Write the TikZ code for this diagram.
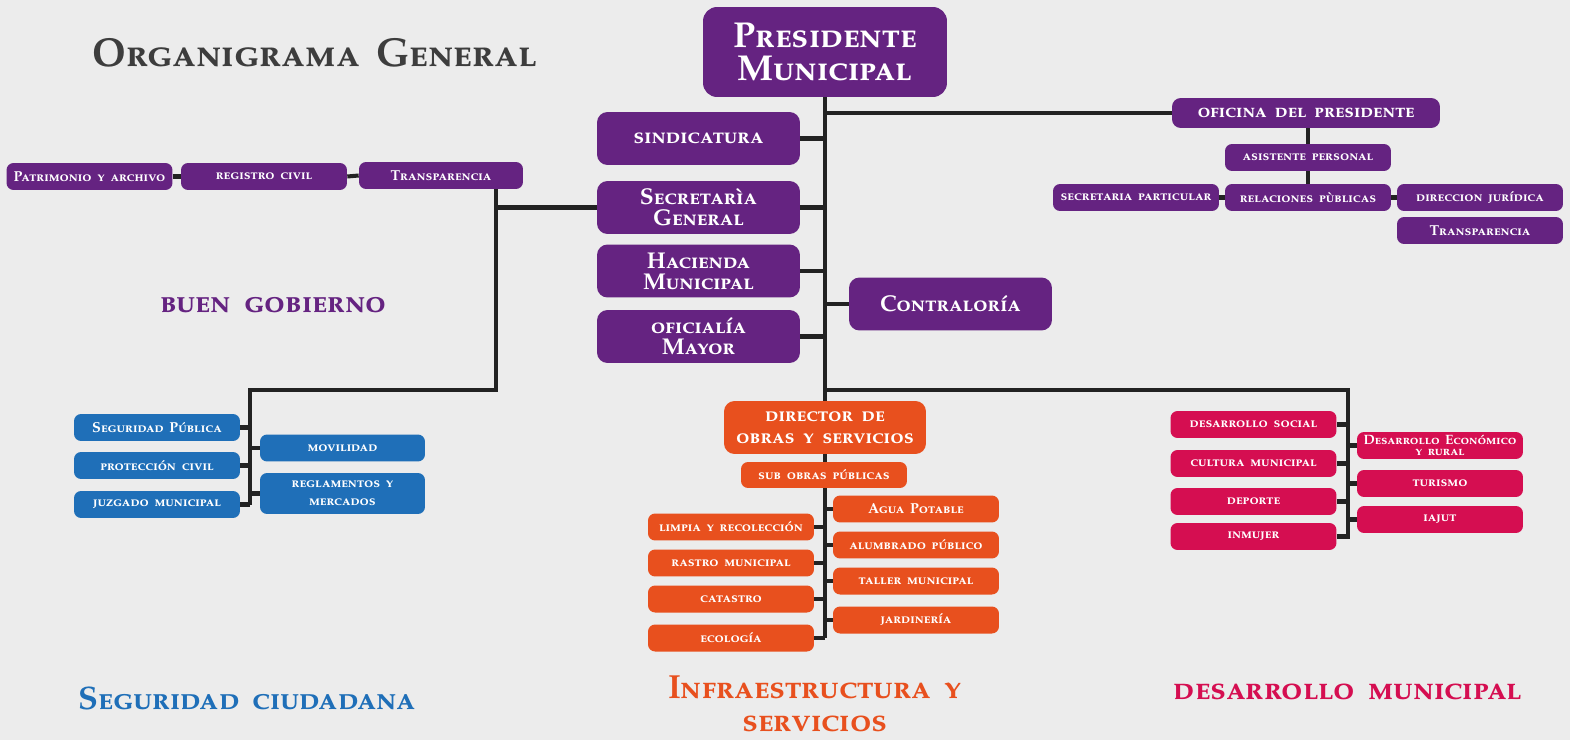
\documentclass[tikz,border=0pt]{standalone}
\usepackage{fontspec}
\newfontfamily\orgfont{texgyrepagella-bold}[Extension=.otf, Letters=SmallCaps, WordSpace=1.6]
\usetikzlibrary{positioning}
\definecolor{morado}{RGB}{101,35,129}
\definecolor{azul}{RGB}{31,111,184}
\definecolor{naranja}{RGB}{232,80,30}
\definecolor{carmin}{RGB}{213,14,81}
\definecolor{fondo}{RGB}{236,236,236}
\definecolor{linea}{RGB}{34,34,34}
\definecolor{titulo}{RGB}{61,61,61}

\begin{document}
\begin{tikzpicture}[
      x=0.02cm, y=-0.02cm,
      box/.style={rounded corners=4pt, text=white, align=center, inner sep=1pt, font=\orgfont\fontsize{8.2}{8.2}\selectfont},
      smallbox/.style={box, minimum width=3.32cm, minimum height=0.54cm},
      bigbox/.style={box, rounded corners=6pt, minimum width=4.06cm, minimum height=1.06cm, font=\orgfont\fontsize{13}{12}\selectfont},
      label/.style={font=\orgfont\fontsize{18.5}{18.5}\selectfont, align=center},
      link/.style={linea, line width=2.3pt}
    ]
      \useasboundingbox (0,0) rectangle (1570,740);
      \fill[fondo] (0,0) rectangle (1570,740);

      \node[label, titulo, font=\orgfont\fontsize{23}{23}\selectfont] (titulo) at (315,53) {Organigrama  General};

      % presidencia
      \node[box, fill=morado, rounded corners=8pt, minimum width=4.88cm, minimum height=1.8cm, font=\orgfont\fontsize{20.5}{18.5}\selectfont] (pres) at (825,52) {Presidente\\Municipal};
      \node[bigbox, fill=morado] (sind) at (698.5,138.5) {sindicatura};
      \node[bigbox, fill=morado] (secg) at (698.5,207.5) {Secretarìa\\General};
      \node[bigbox, fill=morado] (haci) at (698.5,271) {Hacienda\\Municipal};
      \node[bigbox, fill=morado] (ofim) at (698.5,336.5) {oficialía\\Mayor};
      \node[bigbox, fill=morado] (contra) at (950.5,304) {Contraloría};

      % oficina del presidente
      \node[box, fill=morado, rounded corners=5pt, minimum width=5.36cm, minimum height=0.6cm, font=\orgfont\fontsize{11.5}{11.5}\selectfont] (ofi) at (1306,113) {oficina  del  presidente};
      \node[smallbox, fill=morado] (asis) at (1308,157.5) {asistente  personal};
      \node[smallbox, fill=morado] (relp) at (1308,197.5) {relaciones  pùblicas};
      \node[smallbox, fill=morado] (secp) at (1136,197.5) {secretaria  particular};
      \node[smallbox, fill=morado] (dirj) at (1480,197.5) {direccion  jurídica};
      \node[smallbox, fill=morado] (transp) at (1480,230.5) {Transparencia};

      % buen gobierno
      \node[smallbox, fill=morado] (patr) at (89.5,176.5) {Patrimonio  y  archivo};
      \node[smallbox, fill=morado] (regc) at (264,176.5) {registro  civil};
      \node[smallbox, fill=morado, minimum width=3.28cm] (transg) at (441,175.5) {Transparencia};
      \coordinate (bajada) at (496,189);
      \node[label, morado] (buen) at (273,305) {buen  gobierno};

      % seguridad ciudadana
      \node[smallbox, fill=azul] (segp) at (157,427.5) {Seguridad  Pública};
      \node[smallbox, fill=azul] (protc) at (157,465.5) {protección  civil};
      \node[smallbox, fill=azul] (juzg) at (157,504.5) {juzgado  municipal};
      \node[smallbox, fill=azul, minimum width=3.3cm] (movi) at (342.5,448) {movilidad};
      \node[smallbox, fill=azul, minimum width=3.3cm, minimum height=0.82cm] (regl) at (342.5,493.5) {reglamentos  y\\[2pt]mercados};
      \coordinate (segtop) at (250,390);
      \node[label, azul] (segu) at (247,698) {Seguridad  ciudadana};

      % infraestructura y servicios
      \node[bigbox, fill=naranja, minimum width=4.04cm, font=\orgfont\fontsize{12}{12.5}\selectfont] (dir) at (825,427.5) {director  de\\obras  y  servicios};
      \node[smallbox, fill=naranja, minimum height=0.52cm] (sub) at (824,475) {sub  obras  públicas};
      \node[smallbox, fill=naranja] (limp) at (731,527) {limpia  y  recolección};
      \node[smallbox, fill=naranja] (rast) at (731,563) {rastro  municipal};
      \node[smallbox, fill=naranja] (cata) at (731,599) {catastro};
      \node[smallbox, fill=naranja] (ecol) at (731,638) {ecología};
      \node[smallbox, fill=naranja] (agua) at (916,509) {Agua  Potable};
      \node[smallbox, fill=naranja] (alum) at (916,545) {alumbrado  público};
      \node[smallbox, fill=naranja] (tall) at (916,581) {taller  municipal};
      \node[smallbox, fill=naranja] (jard) at (916,620) {jardinería};
      \coordinate (obrasfin) at (825,638);
      \node[label, naranja, font=\orgfont\fontsize{19}{18.5}\selectfont] (infra) at (815,704) {Infraestructura  y\\servicios};

      % desarrollo municipal
      \node[smallbox, fill=carmin] (dsoc) at (1253.5,424.5) {desarrollo  social};
      \node[smallbox, fill=carmin] (cult) at (1253.5,463.5) {cultura  municipal};
      \node[smallbox, fill=carmin] (depo) at (1253.5,501.5) {deporte};
      \node[smallbox, fill=carmin] (inmu) at (1253.5,536.5) {inmujer};
      \node[smallbox, fill=carmin, font=\orgfont\fontsize{7.7}{6.5}\selectfont] (deco) at (1440,445.5) {Desarrollo  Económico\\y  rural};
      \node[smallbox, fill=carmin] (turi) at (1440,483.5) {turismo};
      \node[smallbox, fill=carmin] (iaju) at (1440,519.5) {iajut};
      \coordinate (destop) at (1348,390);
      \coordinate (desfin) at (1348,539);
      \node[label, carmin, font=\orgfont\fontsize{19}{19}\selectfont] (desa) at (1348,692) {desarrollo  municipal};

      % conectores
      \draw[link] (pres.south) -- (dir.north);
      \draw[link] (ofi.west) -- (ofi.west -| pres.south);
      \draw[link] (sind.east) -- (sind.east -| pres.south);
      \draw[link] (secg.east) -- (secg.east -| pres.south);
      \draw[link] (haci.east) -- (haci.east -| pres.south);
      \draw[link] (ofim.east) -- (ofim.east -| pres.south);
      \draw[link] (contra.west) -- (contra.west -| pres.south);
      \draw[link] (asis.north |- ofi.south) -- (asis.north);
      \draw[link] (asis.south) -- (relp.north);
      \draw[link] (secp.east) -- (relp.west);
      \draw[link] (relp.east) -- (dirj.west);
      \draw[link] (patr.east) -- (regc.west);
      \draw[link] (regc.east) -- (transg.west);
      \draw[link] (secg.west) -- (secg.west -| bajada);
      \draw[link] (bajada) |- (segtop) -- (juzg.east -| segtop);
      \foreach \n in {segp, protc, juzg}
        \draw[link] (\n.east) -- (\n.east -| segtop);
      \foreach \n in {movi, regl}
        \draw[link] (\n.west) -- (\n.west -| segtop);
      \draw[link] (pres.south |- segtop) -- (destop) -- (desfin);
      \foreach \n in {dsoc, cult, depo, inmu}
        \draw[link] (\n.east) -- (\n.east -| destop);
      \foreach \n in {deco, turi, iaju}
        \draw[link] (\n.west) -- (\n.west -| destop);
      \draw[link] (dir.south) -- (sub.north -| dir.south);
      \draw[link] (sub.south -| dir.south) -- (obrasfin);
      \foreach \n in {limp, rast, cata, ecol}
        \draw[link] (\n.east) -- (\n.east -| obrasfin);
      \foreach \n in {agua, alum, tall, jard}
        \draw[link] (\n.west) -- (\n.west -| obrasfin);
    \end{tikzpicture}
\end{document}
